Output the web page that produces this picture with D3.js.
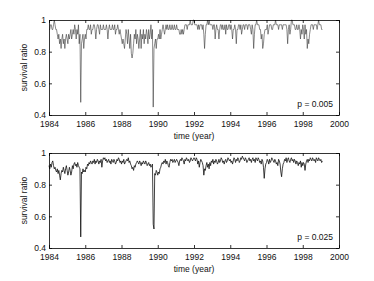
<!DOCTYPE html>
<html>
<head>
<meta charset="utf-8">
<script src="https://cdn.jsdelivr.net/npm/d3@7"></script>
<style>
  body { margin: 0; background: #fff; }
  svg { display: block; }
  text { font-family: "Liberation Sans", Arial, sans-serif; }
</style>
</head>
<body>
<svg id="chart" width="374" height="281"></svg>
<script>
// time axis + tick labels
var xTicks = [1984, 1986, 1988, 1990, 1992, 1994, 1996, 1998, 2000];
var yTicks = [0.4, 0.6, 0.8, 1];
var yTickLabels = ["0.4", "0.6", "0.8", "1"];
var startYear = 1984;
var perYear = 24; // two samples a month

// p = 0.005, survival ratio (quantized, one row per year)
var surv005 = [
  .94,.94,.97,.97,.94,.94,.97,1,.97,.94,.94,.91,.88,.91,.85,.88,.82,.88,.91,.85,.88,.82,.88,.91,
  .88,.85,.91,.88,.91,.94,.88,.91,.94,.91,.97,.94,.88,.94,.91,.97,.85,.91,.48,.85,.88,.91,.82,.88,
  .91,.88,.94,.94,.97,.94,.94,.97,.91,.94,.94,.97,.97,.94,.88,.94,.97,.97,.94,.91,.97,.94,.94,.94,
  .97,.94,.94,.94,.97,.94,.88,.94,.97,.94,.94,.94,.97,.94,.94,.97,.91,.94,.94,.97,.94,.91,.94,.91,
  .88,.85,.88,.85,.82,.88,.94,.91,.85,.94,.88,.82,.91,.79,.76,.79,.85,.91,.88,.94,.85,.91,.88,.82,
  .88,.94,.82,.91,.88,.94,.85,.91,.88,.94,.91,.85,.94,.88,.91,.97,.88,.94,.45,.82,.85,.88,.82,.88,
  .88,.91,.88,.94,.88,.91,.94,.97,.94,.91,.94,.97,.94,.97,.94,.94,.97,.94,.94,.97,.94,.94,.97,.94,
  .94,.97,.94,.94,.94,.91,.91,.94,.91,.94,.91,.94,.97,.97,.97,.94,.97,.97,.97,1,.97,.97,.97,1,
  1,.97,.97,.97,.97,.94,.97,.94,.97,.97,.97,.94,.97,.91,.82,.91,.97,.97,1,.97,1,.97,.97,.97,
  .97,.94,.97,.97,.88,.94,.97,.94,.94,.88,.94,.97,.97,.94,.97,.94,.94,.97,.91,.97,.94,.94,.97,.97,
  .94,.97,.94,.88,.94,.94,.97,.94,.85,.94,.94,.97,.97,.94,.97,.91,.94,.97,.97,.94,.97,.97,.97,.94,
  .97,.97,.97,.94,.91,.97,.94,.82,.91,.97,.97,1,.97,.97,.97,.94,.94,.88,.91,.82,.85,.91,.94,.94,
  .94,.97,.91,.94,.97,.97,.97,.94,.94,.97,.97,.97,1,.97,.97,.97,.94,.97,.97,.97,.97,.94,.97,.97,
  .97,.97,.97,.94,.85,.94,.97,.91,.94,1,1,.97,.97,.97,.94,.94,.97,.94,.94,.97,.94,.88,.94,.91,
  .97,.94,.88,.97,.91,.94,.82,.88,.85,.91,.94,.97,.97,.97,.94,.97,.97,.97,.97,.94,.97,1,.97,.97,
  .97,.94,.94
];

// p = 0.025, survival ratio
var surv025 = [
  .92,.90,.93,.91,.94,.95,.92,.90,.91,.89,.88,.90,.87,.89,.86,.83,.87,.89,.88,.91,.89,.87,.90,.92,
  .89,.86,.88,.91,.89,.86,.88,.92,.90,.93,.94,.92,.93,.91,.94,.92,.91,.90,.47,.88,.87,.90,.88,.89,
  .88,.91,.90,.93,.92,.94,.93,.95,.94,.93,.95,.94,.96,.93,.95,.94,.96,.95,.93,.95,.94,.96,.91,.95,
  .97,.96,.97,.95,.96,.94,.95,.96,.94,.95,.93,.96,.95,.94,.96,.95,.93,.94,.96,.95,.97,.96,.94,.95,
  .93,.95,.94,.96,.93,.94,.95,.96,.95,.97,.94,.95,.93,.92,.90,.91,.89,.92,.91,.93,.94,.95,.94,.93,
  .95,.94,.92,.94,.93,.95,.94,.93,.95,.94,.92,.93,.94,.92,.93,.91,.92,.93,.55,.52,.87,.86,.89,.88,
  .86,.88,.87,.90,.91,.93,.94,.93,.95,.94,.96,.93,.95,.94,.92,.91,.94,.96,.95,.96,.94,.95,.96,.94,
  .95,.96,.95,.94,.92,.95,.96,.95,.97,.96,.95,.93,.96,.95,.97,.96,.95,.96,.94,.95,.97,.96,.95,.96,
  .97,.96,.95,.97,.96,.93,.95,.91,.94,.96,.95,.94,.92,.86,.90,.89,.92,.94,.91,.93,.90,.94,.92,.95,
  .94,.96,.93,.95,.94,.96,.95,.93,.94,.96,.94,.95,.97,.96,.94,.95,.93,.95,.96,.94,.95,.97,.96,.95,
  .96,.94,.95,.93,.95,.97,.96,.94,.96,.95,.97,.96,.94,.95,.97,.96,.98,.97,.96,.95,.97,.96,.94,.95,
  .96,.97,.95,.96,.94,.96,.97,.95,.96,.94,.97,.96,.95,.97,.96,.94,.95,.93,.96,.95,.91,.84,.90,.93,
  .94,.96,.95,.93,.96,.94,.95,.97,.96,.95,.94,.96,.95,.93,.94,.92,.96,.95,.93,.88,.85,.90,.93,.94,
  .96,.95,.97,.94,.96,.97,.95,.94,.96,.97,.95,.96,.94,.96,.95,.93,.95,.94,.92,.94,.93,.95,.91,.94,
  .92,.94,.93,.89,.93,.95,.96,.94,.96,.95,.97,.96,.95,.97,.96,.95,.96,.94,.97,.96,.95,.97,.96,.95,
  .96,.94,.95
];

var panels = [
  { values: surv005, label: "p = 0.005", top: 20, color: "#3a3a3a", width: 0.6 },
  { values: surv025, label: "p = 0.025", top: 153, color: "#111", width: 0.8 }
];

var svg = d3.select("#chart");
var left = 49, right = 339, h = 95;

var x = d3.scaleLinear().domain([1984, 2000]).range([left, right]);

function drawPanel(p){
  var y = d3.scaleLinear().domain([0.4, 1]).range([p.top + h, p.top]);
  var g = svg.append("g");

  var pts = p.values.map(function(v, i){ return [startYear + i / perYear, v]; });
  var line = d3.line()
    .x(function(d){ return x(d[0]); })
    .y(function(d){ return y(d[1]); });

  g.append("path")
    .datum(pts)
    .attr("d", line)
    .attr("fill", "none")
    .attr("stroke", p.color)
    .attr("stroke-width", p.width)
    .attr("stroke-linejoin", "miter");

  // box + inward ticks on four sides
  var bottomAx = d3.axisBottom(x).tickValues(xTicks).tickSizeInner(-3).tickSizeOuter(0).tickPadding(6).tickFormat(d3.format("d"));
  var topAx = d3.axisTop(x).tickValues(xTicks).tickSizeInner(-3).tickSizeOuter(0).tickFormat("");
  var leftAx = d3.axisLeft(y).tickValues(yTicks).tickSizeInner(-3).tickSizeOuter(0).tickPadding(3)
    .tickFormat(function(d, i){ return yTickLabels[i]; });
  var rightAx = d3.axisRight(y).tickValues(yTicks).tickSizeInner(-3).tickSizeOuter(0).tickFormat("");

  g.append("g").attr("transform", "translate(0," + (p.top + h) + ")").call(bottomAx);
  g.append("g").attr("transform", "translate(0," + p.top + ")").call(topAx);
  g.append("g").attr("transform", "translate(" + left + ",0)").call(leftAx);
  g.append("g").attr("transform", "translate(" + right + ",0)").call(rightAx);

  g.selectAll(".domain, .tick line").attr("stroke", "#000").attr("stroke-width", 0.8);
  g.selectAll(".tick text").attr("fill", "#111").style("font-size", "8.5px")
    .style("font-family", "'Liberation Sans', Arial, sans-serif");

  g.append("text")
    .attr("x", (left + right) / 2)
    .attr("y", p.top + h + 24)
    .attr("text-anchor", "middle")
    .attr("font-size", "8.5px")
    .attr("fill", "#111")
    .text("time (year)");

  g.append("text")
    .attr("transform", "translate(27," + (p.top + h / 2) + ") rotate(-90)")
    .attr("text-anchor", "middle")
    .attr("font-size", "8.5px")
    .attr("fill", "#111")
    .text("survival ratio");

  g.append("text")
    .attr("x", right - 6)
    .attr("y", p.top + h - 8)
    .attr("text-anchor", "end")
    .attr("font-size", "8.5px")
    .attr("fill", "#111")
    .text(p.label);
}

panels.forEach(drawPanel);
</script>
</body>
</html>
